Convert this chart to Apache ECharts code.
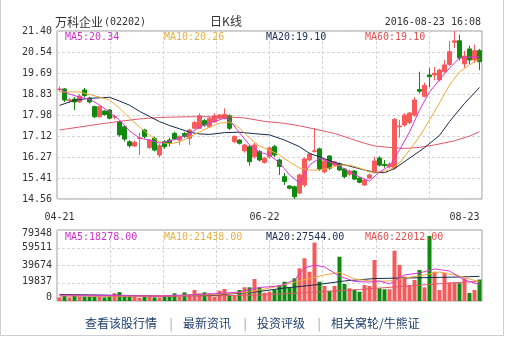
<!DOCTYPE html>
<html><head><meta charset="utf-8">
<script src="https://cdn.jsdelivr.net/npm/echarts@6/dist/echarts.min.js"></script>
<style>html,body{margin:0;padding:0;background:#fff}#c{width:509px;height:337px}</style>
</head><body><div id="c"></div>
<script>
const categories = ['04-21','04-22','04-25','04-26','04-27','04-28','04-29','05-03','05-04','05-05','05-06','05-09','05-10','05-11','05-12','05-13','05-16','05-17','05-18','05-19','05-20','05-23','05-24','05-25','05-26','05-27','05-30','05-31','06-01','06-02','06-03','06-06','06-07','06-08','06-13','06-14','06-15','06-16','06-17','06-20','06-21','06-22','06-23','06-24','06-27','06-28','06-29','06-30','07-04','07-05','07-06','07-07','07-08','07-11','07-12','07-13','07-14','07-15','07-18','07-19','07-20','07-21','07-22','07-25','07-26','07-27','07-28','07-29','08-01','08-02','08-03','08-04','08-05','08-08','08-09','08-10','08-11','08-12','08-15','08-16','08-17','08-18','08-19','08-22','08-23'];
const labelIdx = [0, 41, 84];

const opens  = [19.02,19.04,18.57,18.63,18.51,19.00,18.67,18.32,17.91,18.14,18.18,17.90,17.70,17.50,16.89,16.72,17.03,17.37,16.65,17.03,16.35,16.89,16.96,17.23,16.96,17.23,17.03,17.44,17.44,17.75,17.50,17.71,17.85,17.85,17.95,16.89,16.96,16.52,16.69,16.28,16.49,16.05,16.28,16.69,16.15,15.47,15.09,15.06,14.80,15.13,16.15,16.50,16.60,15.67,16.31,15.94,15.99,15.78,15.57,15.70,15.41,15.13,15.41,15.66,16.23,15.97,15.87,15.82,17.50,17.57,17.67,17.98,19.02,18.74,19.61,19.61,19.41,19.74,20.04,20.94,21.00,20.06,20.67,20.22,20.60];
const closes = [19.04,18.59,18.60,18.51,18.75,18.77,18.51,17.91,18.32,18.00,17.85,17.91,17.17,17.00,16.73,16.87,17.05,17.10,16.96,16.55,16.73,16.69,16.83,17.00,17.10,17.10,17.37,17.67,17.95,17.57,17.85,17.95,17.98,18.01,17.44,17.10,16.83,16.76,16.08,16.76,16.15,16.22,16.64,16.35,15.88,15.27,15.00,14.65,15.54,16.19,16.39,16.52,15.78,16.11,15.81,16.07,15.74,15.47,15.70,15.37,15.24,15.33,15.54,16.11,15.94,15.92,15.98,17.80,17.53,17.98,18.06,18.59,18.95,19.18,19.54,19.68,19.81,20.02,20.56,21.00,20.30,20.38,20.22,20.60,20.15];
const lows   = [18.93,18.51,18.47,18.18,18.47,18.71,18.45,17.85,17.87,17.95,17.80,17.80,17.10,16.90,16.65,16.68,16.35,17.02,16.60,16.50,16.25,16.60,16.69,16.96,16.76,17.05,16.76,17.40,17.40,17.50,17.45,17.65,17.80,17.80,17.37,16.83,16.78,16.45,15.92,16.20,16.08,16.00,16.20,16.27,15.54,15.13,14.95,14.56,14.75,15.05,16.10,16.45,15.70,15.60,15.74,15.90,15.70,15.40,15.50,15.33,15.20,15.09,15.37,15.60,15.88,15.83,15.80,15.75,17.05,17.50,17.60,17.90,18.86,18.70,19.12,19.40,19.35,19.70,19.98,20.70,20.20,19.90,20.05,20.10,19.81];
const highs  = [19.14,19.08,18.67,18.71,18.83,19.08,18.71,18.36,18.36,18.18,18.22,17.98,17.76,17.55,16.96,16.94,17.25,17.42,17.00,17.10,16.80,16.96,17.05,17.30,17.15,17.28,17.42,17.74,18.05,17.82,17.90,18.05,18.02,18.25,18.00,17.15,17.00,16.80,16.75,16.84,16.55,16.28,16.70,16.76,16.20,15.62,15.13,15.10,15.60,16.25,16.45,17.45,16.65,16.20,16.35,16.12,16.05,15.82,15.75,15.74,15.45,15.37,15.60,16.28,16.30,16.15,16.05,17.86,17.78,18.05,18.10,18.70,19.74,19.30,19.90,19.93,19.86,20.22,21.00,21.40,21.25,20.60,20.80,20.85,20.67];
const volumes = [4100,5900,4100,6700,4800,4800,4800,4800,4800,4100,4800,8600,10000,6000,6000,6700,3700,4800,4800,4100,4100,4800,4800,8600,4800,9700,7400,12300,8600,9700,8600,4800,11500,13400,5900,5900,12300,15300,15300,24600,15300,9300,10400,12300,17900,21600,15300,25300,36500,47700,32700,65200,21600,16800,11500,16800,49500,19000,14200,12300,10400,17900,16800,45800,14200,13100,13100,56200,40200,27200,17900,23500,34600,15300,72600,32700,12300,31600,20500,20500,19800,25300,9000,12300,24000];

// moving-average lines: [candle index, value]
const ma5  = [[0,19.04],[2,18.83],[4,18.71],[6,18.63],[8,18.39],[10,18.10],[12,17.78],[14,17.33],[16,17.04],[18,16.96],[20,16.84],[22,16.92],[24,17.04],[26,17.21],[28,17.49],[30,17.65],[32,17.78],[33,17.86],[34,17.78],[36,17.25],[38,16.76],[40,16.47],[42,16.35],[44,16.03],[46,15.54],[48,15.21],[50,15.94],[52,16.23],[54,16.07],[56,15.90],[58,15.66],[60,15.46],[62,15.29],[64,15.66],[66,15.90],[68,16.55],[70,17.29],[72,18.18],[74,18.92],[76,19.41],[78,19.89],[80,20.30],[82,20.34],[84,20.34]];
const ma10 = [[0,18.92],[4,18.92],[8,18.71],[10,18.59],[12,18.26],[14,17.86],[16,17.49],[18,17.17],[20,16.88],[22,16.80],[24,16.88],[26,17.08],[28,17.29],[30,17.49],[32,17.65],[34,17.69],[36,17.45],[38,17.04],[40,16.72],[42,16.55],[44,16.35],[46,16.07],[48,15.82],[50,15.74],[52,15.74],[54,15.82],[56,15.94],[58,15.94],[60,15.82],[62,15.66],[64,15.66],[66,15.74],[68,16.03],[70,16.55],[72,17.10],[74,17.78],[76,18.47],[78,19.20],[80,19.74],[82,20.02],[84,20.26]];
const ma20 = [[0,18.37],[3,18.58],[6,18.66],[10,18.70],[12,18.55],[14,18.38],[16,18.13],[18,17.92],[20,17.71],[22,17.55],[24,17.42],[26,17.28],[28,17.21],[30,17.19],[33,17.26],[36,17.28],[39,17.22],[42,17.17],[45,16.96],[48,16.69],[50,16.42],[53,16.20],[55,16.05],[58,15.90],[61,15.74],[63,15.65],[65,15.63],[67,15.80],[70,16.22],[73,16.65],[76,17.15],[78,17.71],[81,18.45],[84,19.10]];
const ma60 = [[0,17.37],[4,17.49],[8,17.61],[12,17.72],[16,17.82],[20,17.88],[26,17.91],[33,17.91],[37,17.86],[41,17.72],[45,17.64],[48,17.54],[51,17.41],[55,17.23],[58,17.03],[61,16.83],[63,16.72],[66,16.66],[69,16.62],[72,16.66],[75,16.76],[79,16.93],[82,17.12],[84,17.30]];
const vma5  = [[0,6700],[10,6100],[20,5600],[30,7800],[36,10000],[40,15100],[44,16800],[47,23500],[49,36900],[51,40200],[53,38000],[56,27900],[59,21800],[62,21200],[64,22400],[66,19000],[69,29100],[72,31300],[75,35800],[78,33500],[81,23500],[84,18278]];
const vma10 = [[0,6100],[15,5600],[30,6700],[38,10000],[44,16800],[48,22400],[53,29100],[56,31900],[59,24600],[63,21800],[66,22400],[69,25700],[73,29100],[76,32400],[80,27900],[84,21438]];
const vma20 = [[0,7300],[15,6100],[30,6100],[39,10000],[45,14500],[51,17900],[57,22400],[63,25100],[69,25700],[75,26300],[80,26800],[84,27544]];
const vma60 = [[0,5600],[20,5000],[40,6700],[50,9500],[60,12900],[70,16800],[78,20100],[84,22012]];

const priceTicks = ['14.56','15.41','16.27','17.12','17.98','18.83','19.69','20.54','21.40'];
const volTicks = ['0','19837','39674','59511','79348'];
const priceLegend = ['MA5:20.34','MA10:20.26','MA20:19.10','MA60:19.10'];
const volLegend = ['MA5:18278.00','MA10:21438.00','MA20:27544.00','MA60:22012.00'];
const links = ['查看该股行情','最新资讯','投资评级','相关窝轮/牛熊证'];

const PMIN = 14.56, PMAX = 21.40, PINT = 0.855;
const VMAX = 79348, VINT = 19837;
const UP = '#f65a5a', DOWN = '#11890f';
const maColors = ['#d936d9', '#f0aa3a', '#152a4e', '#e0586a'];
const legendColors = ['#cc33cc', '#e8b040', '#1a2e50', '#e05050'];
const mono = '"DejaVu Sans Mono", "Liberation Mono", monospace';
const cjk = '"Noto Sans CJK SC", sans-serif';
const G = {left: 57, width: 425};

const candleData = opens.map((o, i) => [o, closes[i], lows[i], highs[i]]);
const volData = volumes.map((v, i) => ({value: v, itemStyle: {color: closes[i] >= opens[i] ? UP : DOWN}}));

const dash = {color: '#d6d6d6', type: [3, 2], width: 1};
function vgridAxis(gi) {
  return {type: 'value', gridIndex: gi, min: 0, max: 8, interval: 1, axisLine: {show: false}, axisTick: {show: false}, axisLabel: {show: false}, splitLine: {show: true, lineStyle: dash}};
}
function maLine(data, color, xi, yi) {
  return {type: 'line', data: data, xAxisIndex: xi, yAxisIndex: yi, showSymbol: false, symbol: 'none', lineStyle: {color: color, width: 1}, z: 3, silent: true};
}

const legendX = [65, 164, 266, 365];
const graphics = [
  {type: 'rect', shape: {x: 0.5, y: -1, width: 503, height: 336.5}, style: {fill: 'none', stroke: '#cfcfcf', lineWidth: 1}, silent: true},
  {type: 'text', x: 55, y: 22, style: {text: '万科企业', font: '12px ' + cjk, fill: '#333', verticalAlign: 'middle'}},
  {type: 'text', x: 104, y: 22, style: {text: '(02202)', font: '10px ' + mono, fill: '#333', verticalAlign: 'middle'}},
  {type: 'text', x: 226, y: 21, style: {text: '日K线', font: '12px ' + cjk, fill: '#333', align: 'center', verticalAlign: 'middle'}},
  {type: 'text', x: 481, y: 22, style: {text: '2016-08-23 16:08', font: '10px ' + mono, fill: '#333', align: 'right', verticalAlign: 'middle'}}
];
priceLegend.forEach((t, i) => graphics.push({type: 'text', x: legendX[i], y: 37.5, z: 10, style: {text: t, font: '10px ' + mono, fill: legendColors[i], verticalAlign: 'middle'}}));
volLegend.forEach((t, i) => graphics.push({type: 'text', x: legendX[i], y: 237.5, z: 10, style: {text: t, font: '10px ' + mono, fill: legendColors[i], verticalAlign: 'middle'}}));
const linkX = [85, 183, 257, 331];
links.forEach((t, i) => {
  graphics.push({type: 'text', x: linkX[i], y: 323, style: {text: t, font: '12px ' + cjk, fill: '#21406f', verticalAlign: 'middle'}});
});
[171, 245, 319].forEach(x => graphics.push({type: 'text', x: x, y: 323, style: {text: '|', font: '12px ' + cjk, fill: '#999', align: 'center', verticalAlign: 'middle'}}));

const chart = echarts.init(document.getElementById('c'), null, {renderer: 'canvas'});
chart.setOption({
  animation: false,
  backgroundColor: '#fff',
  grid: [
    {left: G.left, width: G.width, top: 31, height: 168, show: true, borderColor: '#9a9a9a', borderWidth: 1, backgroundColor: 'transparent'},
    {left: G.left, width: G.width, top: 230, height: 71, show: true, borderColor: '#9a9a9a', borderWidth: 1, backgroundColor: 'transparent'}
  ],
  xAxis: [
    {type: 'category', gridIndex: 0, data: categories, boundaryGap: true,
     axisLine: {show: false}, axisTick: {show: false}, splitLine: {show: false},
     axisLabel: {interval: (i) => labelIdx.indexOf(i) >= 0, color: '#333', fontFamily: mono, fontSize: 10, margin: 13, alignMaxLabel: 'right', showMaxLabel: true}},
    vgridAxis(0),
    {type: 'category', gridIndex: 1, data: categories, boundaryGap: true,
     axisLine: {show: false}, axisTick: {show: false}, axisLabel: {show: false}, splitLine: {show: false}},
    vgridAxis(1)
  ],
  yAxis: [
    {type: 'value', gridIndex: 0, min: PMIN, max: PMAX, interval: PINT,
     axisLine: {show: false}, axisTick: {show: false}, splitLine: {show: true, lineStyle: dash},
     axisLabel: {formatter: v => priceTicks[Math.round((v - PMIN) / PINT)], color: '#333', fontFamily: mono, fontSize: 10, margin: 5}},
    {type: 'value', gridIndex: 1, min: 0, max: VMAX, interval: VINT,
     axisLine: {show: false}, axisTick: {show: false}, splitLine: {show: true, lineStyle: dash},
     axisLabel: {formatter: v => {
        const k = Math.round(v / VINT); const t = volTicks[k];
        if (k === 4) return '{a|' + t + '}';
        if (k === 0) return '{b|' + t + '}';
        if (k === 1) return '{c|' + t + '}';
        return t;
      }, color: '#333', fontFamily: mono, fontSize: 10, margin: 5,
      rich: {
        a: {padding: [6, 0, 0, 0], fontFamily: mono, fontSize: 10, color: '#333'},
        b: {padding: [0, 0, 8, 0], fontFamily: mono, fontSize: 10, color: '#333'},
        c: {padding: [0, 0, 4, 0], fontFamily: mono, fontSize: 10, color: '#333'}
      }}}
  ],
  series: [
    {type: 'candlestick', xAxisIndex: 0, yAxisIndex: 0, data: candleData, barWidth: 4,
     itemStyle: {color: UP, color0: DOWN, borderColor: UP, borderColor0: DOWN, borderWidth: 1}, silent: true},
    maLine(ma60, maColors[3], 0, 0),
    maLine(ma20, maColors[2], 0, 0),
    maLine(ma10, maColors[1], 0, 0),
    maLine(ma5, maColors[0], 0, 0),
    {type: 'bar', xAxisIndex: 2, yAxisIndex: 1, data: volData, barWidth: 4, silent: true},
    maLine(vma60, maColors[3], 2, 1),
    maLine(vma20, maColors[2], 2, 1),
    maLine(vma10, maColors[1], 2, 1),
    maLine(vma5, maColors[0], 2, 1)
  ],
  graphic: graphics
});
</script></body></html>
